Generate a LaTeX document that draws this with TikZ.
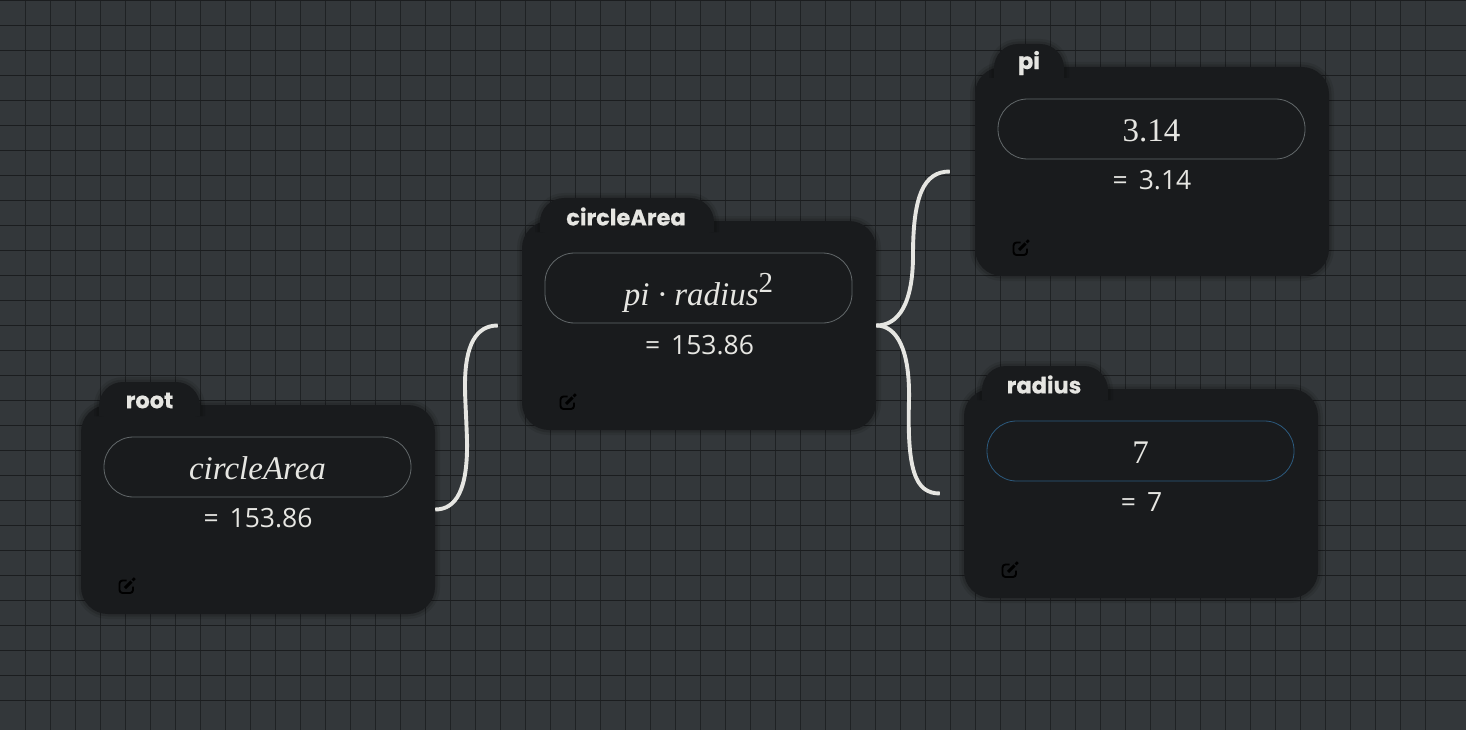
\documentclass[tikz,border=0pt]{standalone}
\usepackage{fontspec}
\setmainfont{Liberation Serif}
\newfontfamily\valuefont{Open Sans}[WordSpace=1.6]
\newfontfamily\tabfont{Poppins}[BoldFont={* Bold},BoldFeatures={FakeBold=0.5}]
\definecolor{pagebg}{HTML}{33373A}
\definecolor{gridline}{HTML}{1B1D1F}
\definecolor{cardbg}{HTML}{191B1D}
\definecolor{pillline}{HTML}{62686A}
\definecolor{pillactive}{HTML}{2C5A7E}
\definecolor{textlight}{HTML}{E6E6E2}
\tikzset{
  softshade/.style={preaction={draw=black,opacity=.09,line width=10},preaction={draw=black,opacity=.12,line width=5}},
  cardbox/.style={softshade,fill=cardbg,rounded corners=27,minimum width=354,minimum height=209,inner sep=0},
  tabshape/.style={softshade,fill=cardbg,rounded corners=24},
  tabname/.style={text=textlight,font=\tabfont\bfseries\fontsize{22.5}{26}\selectfont,inner sep=0},
  pillbox/.style={draw=pillline,line width=.8,rounded corners=29.5,minimum width=307,minimum height=60,inner sep=0,text height=25,text depth=0,text=textlight,font=\fontsize{33}{36}\selectfont},
  valuetext/.style={text=textlight,font=\valuefont\fontsize{26.5}{30}\selectfont,inner sep=0},
  link/.style={draw=textlight,line width=3.9,line cap=butt},
  editicon/.pic={
    \path[draw=black,line width=1.9,rounded corners=3] (-0.5,-5.5) -- (-7.5,-5.5) -- (-7.5,7) -- (6,7) -- (6,0.5);
    \path[draw=black,line width=3] (-2,2) -- (4.5,-4.5);
    \path[draw=black,line width=2.6] (5.6,-5.6) -- (7.8,-7.8);
  }
}
\begin{document}
\begin{tikzpicture}[x=1pt,y=-1pt]
\useasboundingbox (0,0) rectangle (1466,730);
\path[fill=pagebg] (0,0) rectangle (1466,730);
\foreach \gx in {25.8,50.8,...,1450} \path[draw=gridline,line width=1.2,opacity=.8] (\gx,0) -- (\gx,730);
\foreach \gy in {0.5,25.5,...,725} \path[draw=gridline,line width=1] (0,\gy) -- (1466,\gy);

\node[cardbox] (root) at (258,509.5) {};
\node[cardbox] (circleArea) at (699,325.5) {};
\node[cardbox] (pi) at (1152,171.5) {};
\node[cardbox] (radius) at (1141,493.5) {};

\coordinate (circleAreaIn) at ([xshift=-24]circleArea.west);
\coordinate (piIn) at ([xshift=-25]pi.west);
\coordinate (radiusIn) at ([xshift=-24]radius.west);

\path[link] (root.east) .. controls (456,509.5) and (468,490) .. (467,440) .. controls (466,410) and (465,400) .. (465,385) .. controls (465,345) and (476,325.5) .. (circleAreaIn);
\path[link] (circleArea.east) .. controls (899,325.5) and (913,303) .. (913,255) .. controls (913,195) and (924,171.5) .. (piIn);
\path[link] (circleArea.east) .. controls (897,325.5) and (910,350) .. (909,400) .. controls (907,470) and (915,493.5) .. (radiusIn);

\path[tabshape] (99,416) -- (99,382) -- (200,382) -- (200,416);
\path[tabshape] (540,232) -- (540,198) -- (714,198) -- (714,232);
\path[tabshape] (994,78) -- (994,44) -- (1064,44) -- (1064,78);
\path[tabshape] (982,400) -- (982,366) -- (1108,366) -- (1108,400);

\node[tabname] (rootName) at (149.5,400.5) {root};
\node[tabname] (circleAreaName) at (626,216.5) {circleArea};
\node[tabname] (piName) at (1029,63) {pi};
\node[tabname] (radiusName) at (1044,384.5) {radius};

\node[pillbox] (rootExpr) at (257.5,467) {\itshape circleArea};
\node[pillbox,minimum height=70,text height=35] (circleAreaExpr) at (698.5,288) {\itshape pi \textperiodcentered{} radius\raisebox{.38em}{\upshape\fontsize{29}{30}\selectfont 2}};
\node[pillbox] (piExpr) at (1151.5,129) {3.14};
\node[pillbox,draw=pillactive] (radiusExpr) at (1140.5,451) {7};

\node[valuetext] (rootValue) at (258,518.5) {= 153.86};
\node[valuetext] (circleAreaValue) at (699.5,345.5) {= 153.86};
\node[valuetext] (piValue) at (1152,180.5) {= 3.14};
\node[valuetext] (radiusValue) at (1141.5,502.5) {= 7};

\pic at (127,586) {editicon};
\pic at (568,402) {editicon};
\pic at (1021,248) {editicon};
\pic at (1010,570) {editicon};
\end{tikzpicture}
\end{document}
